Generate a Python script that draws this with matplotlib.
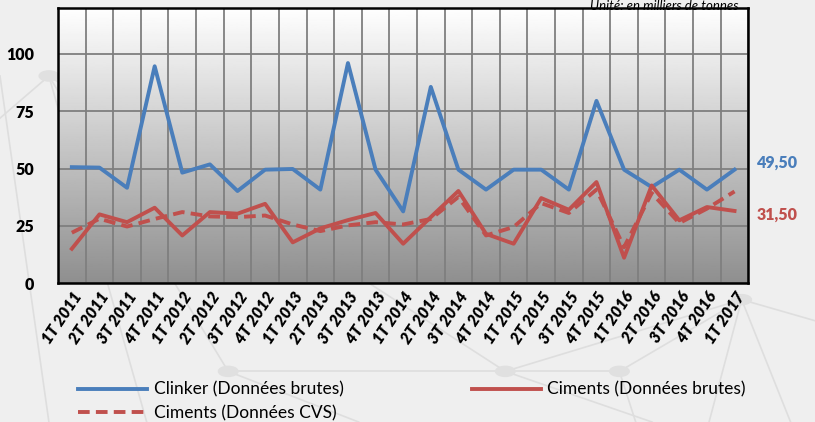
import numpy as np
import matplotlib.pyplot as plt
from matplotlib.lines import Line2D

plt.rcParams['font.family'] = ['Lato', 'DejaVu Sans']

quarters = ["1T 2011", "2T 2011", "3T 2011", "4T 2011",
            "1T 2012", "2T 2012", "3T 2012", "4T 2012",
            "1T 2013", "2T 2013", "3T 2013", "4T 2013",
            "1T 2014", "2T 2014", "3T 2014", "4T 2014",
            "1T 2015", "2T 2015", "3T 2015", "4T 2015",
            "1T 2016", "2T 2016", "3T 2016", "4T 2016",
            "1T 2017"]
clinker = [50.6, 50.4, 41.6, 94.6, 48.2, 51.8, 40.2, 49.5, 49.8, 40.8,
           96.0, 49.5, 31.3, 85.6, 49.5, 40.8, 49.5, 49.5, 40.8, 79.5,
           49.5, 41.9, 49.5, 40.8, 49.5]
ciments = [15.0, 30.0, 26.6, 32.9, 20.8, 31.0, 30.3, 34.6, 17.8, 23.9,
           27.5, 30.6, 17.2, 28.8, 40.2, 21.5, 17.2, 37.1, 32.0, 44.1,
           11.1, 42.6, 27.4, 33.2, 31.5]
ciments_cvs = [22.0, 28.1, 24.7, 28.0, 31.0, 29.1, 28.8, 29.5, 25.6, 22.7,
               25.2, 26.6, 25.6, 28.0, 37.6, 20.8, 24.5, 34.9, 30.6, 40.8,
               15.7, 39.3, 26.2, 32.5, 40.0]

blue = '#4a7ebb'
red = '#c0504d'

fig = plt.figure(figsize=(8.15, 4.22), dpi=100)
fig.patch.set_facecolor('#efefef')

# faint decorative network in the background
deco = [((0.0, 0.06), (0.82, 0.0)), ((0.06, 0.18), (0.82, 0.0)),
        ((0.06, 0.28), (0.82, 0.12)), ((0.06, 0.62), (0.82, 0.12)),
        ((0.28, 0.62), (0.12, 0.12)), ((0.62, 0.76), (0.12, 0.12)),
        ((0.62, 0.91), (0.12, 0.29)), ((0.76, 0.91), (0.12, 0.29)),
        ((0.91, 1.0), (0.29, 0.24)), ((0.91, 0.87), (0.29, 0.0)),
        ((0.91, 0.97), (0.29, 0.0)), ((0.62, 0.80), (0.12, 0.0)),
        ((0.76, 0.78), (0.12, 0.0)), ((0.28, 0.44), (0.12, 0.0)),
        ((0.0, 0.06), (0.72, 0.82))]
for xs, ys in deco:
    fig.add_artist(Line2D(xs, ys, color='#dedede', lw=1.2, zorder=0))
for cx, cy in [(0.06, 0.82), (0.28, 0.12), (0.62, 0.12), (0.76, 0.12), (0.91, 0.29)]:
    fig.add_artist(plt.Circle((cx, cy), 0.012, transform=fig.transFigure,
                              color='#e0e0e0', zorder=0))

ax = fig.add_axes([0.0712, 0.329, 0.847, 0.652])
x = np.arange(len(quarters))

# gradient background
grad = np.linspace(1.0, 0.56, 256).reshape(-1, 1)
ax.imshow(grad, cmap='gray', vmin=0, vmax=1, aspect='auto',
          extent=[-0.5, len(quarters) - 0.5, 0, 120], zorder=0)

ax.plot(x, clinker, color=blue, lw=2.8, label='Clinker (Données brutes)', zorder=3)
ax.plot(x, ciments, color=red, lw=2.8, label='Ciments (Données brutes)', zorder=3)
ax.plot(x, ciments_cvs, color=red, lw=2.8, ls=(0, (3, 1.6)),
        label='Ciments (Données CVS)', zorder=3)

ax.set_xlim(-0.5, len(quarters) - 0.5)
ax.set_ylim(0, 120)
ax.set_yticks([0, 25, 50, 75, 100])
ax.set_xticks(x)
ax.set_xticks(np.arange(-0.5, len(quarters), 1), minor=True)
ax.set_xticklabels(quarters, rotation=56, ha='right', rotation_mode='anchor',
                   fontweight='heavy', fontstyle='italic', fontsize=11.5)
for lab in ax.get_yticklabels():
    lab.set_fontweight('heavy')
    lab.set_fontsize(11.5)
ax.tick_params(axis='both', which='both', length=0)
ax.tick_params(axis='y', pad=17)
ax.tick_params(axis='x', pad=4)
ax.grid(True, which='minor', axis='x', color='#7f7f7f', lw=1.3, zorder=1)
ax.grid(True, which='major', axis='y', color='#7f7f7f', lw=1.3, zorder=1)
ax.set_axisbelow(False)
for s in ax.spines.values():
    s.set_linewidth(1.8)
    s.set_color('black')
    s.set_zorder(4)

ax.annotate(f"{clinker[-1]:.2f}".replace('.', ','), xy=(x[-1], clinker[-1]),
            xytext=(16, 5), textcoords='offset points', color=blue,
            fontweight='heavy', fontsize=11.5, va='center', annotation_clip=False)
ax.annotate(f"{ciments[-1]:.2f}".replace('.', ','), xy=(x[-1], ciments[-1]),
            xytext=(16, -3), textcoords='offset points', color=red,
            fontweight='heavy', fontsize=11.5, va='center', annotation_clip=False)

fig.text(0.906, 0.999, "Unité: en milliers de tonnes", ha='right', va='top',
         fontstyle='italic', fontsize=9.5)

h, l = ax.get_legend_handles_labels()
order = [0, 2, 1]
fig.legend([h[i] for i in order], [l[i] for i in order], ncol=2,
           loc='upper left', bbox_to_anchor=(0.0957, 0.096), frameon=False,
           fontsize=12.5, handlelength=4.0, handletextpad=0.35,
           columnspacing=7.4, labelspacing=0.42, borderpad=0,
           borderaxespad=0)

fig.savefig('out.png', dpi=100, facecolor=fig.get_facecolor())
